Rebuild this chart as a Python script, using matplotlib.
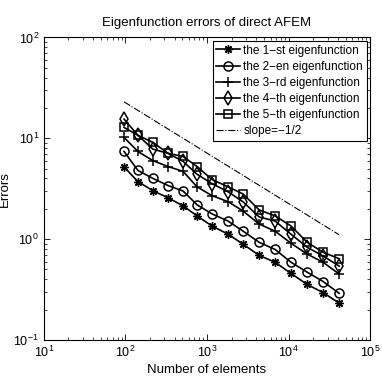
import numpy as np
import matplotlib
matplotlib.use('Agg')
import matplotlib.pyplot as plt

plt.rcParams['font.family'] = ['Liberation Sans', 'DejaVu Sans']
plt.rcParams['mathtext.fontset'] = 'custom'
plt.rcParams['mathtext.rm'] = 'Liberation Sans'
plt.rcParams['mathtext.it'] = 'Liberation Sans:italic'

# number of elements (adaptive steps)
N = [96, 142, 217, 332, 508, 754, 1150, 1810, 2770, 4350, 6830, 10700, 16900, 26500, 41700]

err1 = [5.2, 3.72, 3.02, 2.57, 2.14, 1.70, 1.35, 1.12, 0.89, 0.69, 0.59, 0.457, 0.355, 0.295, 0.232]
err2 = [7.4, 4.8, 4.0, 3.4, 3.0, 2.19, 1.78, 1.51, 1.20, 0.93, 0.79, 0.59, 0.47, 0.38, 0.29]
err3 = [10.2, 7.4, 6.0, 5.25, 4.7, 3.3, 2.7, 2.35, 1.9, 1.41, 1.2, 0.91, 0.71, 0.59, 0.45]
err4 = [15.5, 10.7, 7.8, 7.1, 5.9, 4.4, 3.55, 2.95, 2.34, 1.66, 1.51, 1.12, 0.83, 0.68, 0.54]
err5 = [12.8, 10.7, 9.1, 7.1, 6.6, 5.25, 3.9, 3.3, 2.8, 1.95, 1.7, 1.35, 0.93, 0.74, 0.64]
slope_start = 23.0

labels = ['the 1\u2212st eigenfunction', 'the 2\u2212en eigenfunction',
          'the 3\u2212rd eigenfunction', 'the 4\u2212th eigenfunction',
          'the 5\u2212th eigenfunction', 'slope=\u22121/2']

fig = plt.figure(figsize=(3.82, 3.82), dpi=100)
ax = fig.add_axes([0.115, 0.110, 0.854, 0.792])

N = np.array(N)
slope = slope_start * (N / N[0]) ** -0.5

lw = 1.2
ax.plot(N, err1, '-', color='k', lw=lw, marker=(8, 2, 0), ms=6, mew=1.0, label=labels[0])
ax.plot(N, err2, '-', color='k', lw=lw, marker='o', ms=6.5, mfc='none', mew=1.1, label=labels[1])
ax.plot(N, err3, '-', color='k', lw=lw, marker='+', ms=7, mew=1.1, label=labels[2])
ax.plot(N, err4, '-', color='k', lw=lw, marker='d', ms=7, mfc='none', mew=1.1, label=labels[3])
ax.plot(N, err5, '-', color='k', lw=lw, marker='s', ms=5.5, mfc='none', mew=1.1, label=labels[4])
ax.plot(N, slope, '-.', color='k', lw=0.8, label=labels[5])

ax.set_xscale('log')
ax.set_yscale('log')
ax.set_xlim(10, 1e5)
ax.set_ylim(0.1, 100)

ax.tick_params(which='both', direction='in', top=True, right=True, labelsize=9)
ax.tick_params(which='major', length=4, width=0.6)
ax.tick_params(which='minor', length=2, width=0.5)
for s in ax.spines.values():
    s.set_linewidth(0.8)

ax.set_title('Eigenfunction errors of direct AFEM', fontsize=9.5, pad=8)
ax.set_xlabel('Number of elements', fontsize=9.5, labelpad=3)
ax.set_ylabel('Errors', fontsize=9.5, labelpad=2)

leg = ax.legend(loc='upper right', fontsize=8.5, fancybox=False, edgecolor='k',
                framealpha=1, handlelength=2.0, handletextpad=0.3, labelspacing=0.35,
                borderaxespad=0.3, borderpad=0.3)
leg.get_frame().set_linewidth(0.8)

fig.savefig('out.png', dpi=100)
